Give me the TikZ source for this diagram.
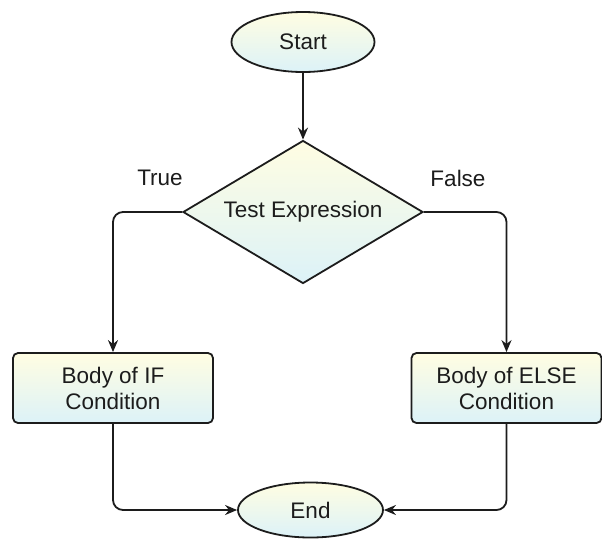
\documentclass[tikz,border=0pt]{standalone}
\usepackage{fontspec}
\setmainfont{Liberation Sans}
\usetikzlibrary{shapes.geometric,arrows.meta}
\definecolor{topc}{RGB}{255,253,226}
\definecolor{botc}{RGB}{220,242,248}
\definecolor{ink}{RGB}{28,28,28}
\begin{document}
\begin{tikzpicture}[x=1pt,y=-1pt,
  every node/.style={font=\fontsize{22.5}{26}\selectfont, text=ink},
  shade/.style={top color=topc, bottom color=botc, draw=ink, line width=1.8pt},
  term/.style={shade, ellipse, inner sep=0pt},
  decision/.style={shade, diamond, aspect=1.68, inner sep=0pt, minimum width=240pt, minimum height=143pt},
  procbox/.style={shade, rectangle, rounded corners=5pt, align=center, inner sep=0pt, minimum width=200pt, minimum height=70pt},
  arr/.style={draw=ink, line width=1.8pt, -{Stealth[length=12pt,width=10pt]}, rounded corners=10pt},
  lbl/.style={inner sep=0pt}
]
\useasboundingbox (0,0) rectangle (602,539);
\node[term, minimum width=143pt, minimum height=60pt] (start) at (303,42) {Start};
\node[decision] (test) at (303,212) {Test Expression};
\node[procbox] (if) at (113,388) {Body of IF\\Condition};
\node[procbox, minimum width=190pt] (else) at (506.5,388) {Body of ELSE\\Condition};
\node[term, minimum width=145pt, minimum height=55pt] (end) at (310.5,510) {End};
\node[lbl] (true) at (160,178) {True};
\node[lbl] (false) at (458,178) {False};
\draw[arr] (start) -- (test);
\draw[arr] (test.west) -| (if.north);
\draw[arr] (test.east) -| (else.north);
\draw[arr] (if.south) |- (end.west);
\draw[arr] (else.south) |- (end.east);
\end{tikzpicture}
\end{document}
